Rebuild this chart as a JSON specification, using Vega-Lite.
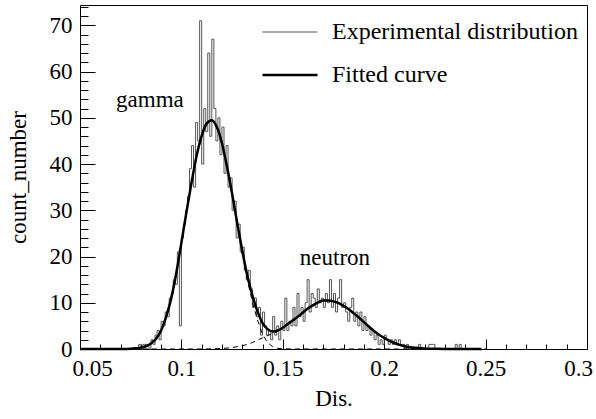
{
  "$schema": "https://vega.github.io/schema/vega-lite/v6.json",
  "width": 507,
  "height": 344,
  "autosize": {"type": "none"},
  "padding": {"left": 80, "top": 5, "right": 9, "bottom": 70},
  "background": "white",
  "config": {
    "view": {"stroke": "black", "strokeWidth": 1},
    "font": "Liberation Serif",
    "axis": {
      "labelFont": "Liberation Serif",
      "titleFont": "Liberation Serif",
      "labelFontSize": 23,
      "titleFontSize": 23,
      "labelColor": "black",
      "titleColor": "black",
      "titleFontWeight": "normal",
      "domain": false,
      "grid": false,
      "tickColor": "black",
      "labelFlush": false,
      "labelOverlap": false
    }
  },
  "resolve": {"axis": {"x": "independent", "y": "independent"}},
  "datasets": {
    "hist": [
      {"x":0.075,"n":0},{"x":0.076,"n":0},{"x":0.077,"n":0},{"x":0.078,"n":0},{"x":0.079,"n":1},
      {"x":0.080,"n":0},{"x":0.081,"n":1},{"x":0.082,"n":1},{"x":0.083,"n":1},{"x":0.084,"n":0},
      {"x":0.085,"n":2},{"x":0.086,"n":1},{"x":0.087,"n":3},{"x":0.088,"n":4},{"x":0.089,"n":2},
      {"x":0.090,"n":6},{"x":0.091,"n":5},{"x":0.092,"n":8},{"x":0.093,"n":7},{"x":0.094,"n":11},
      {"x":0.095,"n":12},{"x":0.096,"n":15},{"x":0.097,"n":14},{"x":0.098,"n":21},{"x":0.099,"n":5},
      {"x":0.100,"n":24},{"x":0.101,"n":27},{"x":0.102,"n":30},{"x":0.103,"n":33},{"x":0.104,"n":39},
      {"x":0.105,"n":44},{"x":0.106,"n":35},{"x":0.107,"n":49},{"x":0.108,"n":45},{"x":0.109,"n":71},
      {"x":0.110,"n":40},{"x":0.111,"n":52},{"x":0.112,"n":47},{"x":0.113,"n":64},{"x":0.114,"n":46},
      {"x":0.115,"n":67},{"x":0.116,"n":52},{"x":0.117,"n":45},{"x":0.118,"n":50},{"x":0.119,"n":42},
      {"x":0.120,"n":48},{"x":0.121,"n":38},{"x":0.122,"n":44},{"x":0.123,"n":35},{"x":0.124,"n":37},
      {"x":0.125,"n":30},{"x":0.126,"n":32},{"x":0.127,"n":24},{"x":0.128,"n":27},{"x":0.129,"n":21},
      {"x":0.130,"n":22},{"x":0.131,"n":17},{"x":0.132,"n":15},{"x":0.133,"n":17},{"x":0.134,"n":13},
      {"x":0.135,"n":9},{"x":0.136,"n":11},{"x":0.137,"n":7},{"x":0.138,"n":9},{"x":0.139,"n":3},
      {"x":0.140,"n":8},{"x":0.141,"n":5},{"x":0.142,"n":3},{"x":0.143,"n":4},{"x":0.144,"n":2},
      {"x":0.145,"n":7},{"x":0.146,"n":3},{"x":0.147,"n":5},{"x":0.148,"n":2},{"x":0.149,"n":6},
      {"x":0.150,"n":4},{"x":0.151,"n":11},{"x":0.152,"n":4},{"x":0.153,"n":6},{"x":0.154,"n":5},
      {"x":0.155,"n":9},{"x":0.156,"n":5},{"x":0.157,"n":12},{"x":0.158,"n":7},{"x":0.159,"n":9},
      {"x":0.160,"n":6},{"x":0.161,"n":10},{"x":0.162,"n":15},{"x":0.163,"n":8},{"x":0.164,"n":12},
      {"x":0.165,"n":11},{"x":0.166,"n":9},{"x":0.167,"n":13},{"x":0.168,"n":10},{"x":0.169,"n":11},
      {"x":0.170,"n":9},{"x":0.171,"n":12},{"x":0.172,"n":10},{"x":0.173,"n":15},{"x":0.174,"n":9},
      {"x":0.175,"n":12},{"x":0.176,"n":8},{"x":0.177,"n":11},{"x":0.178,"n":15},{"x":0.179,"n":9},
      {"x":0.180,"n":10},{"x":0.181,"n":8},{"x":0.182,"n":6},{"x":0.183,"n":9},{"x":0.184,"n":11},
      {"x":0.185,"n":6},{"x":0.186,"n":8},{"x":0.187,"n":5},{"x":0.188,"n":8},{"x":0.189,"n":4},
      {"x":0.190,"n":7},{"x":0.191,"n":4},{"x":0.192,"n":5},{"x":0.193,"n":3},{"x":0.194,"n":4},
      {"x":0.195,"n":2},{"x":0.196,"n":3},{"x":0.197,"n":1},{"x":0.198,"n":2},{"x":0.199,"n":1},
      {"x":0.200,"n":3},{"x":0.201,"n":2},{"x":0.202,"n":1},{"x":0.203,"n":2},{"x":0.204,"n":1},
      {"x":0.205,"n":2},{"x":0.206,"n":1},{"x":0.207,"n":2},{"x":0.208,"n":1},{"x":0.209,"n":1},
      {"x":0.210,"n":0},{"x":0.211,"n":1},{"x":0.212,"n":0},{"x":0.213,"n":0},{"x":0.214,"n":0},
      {"x":0.215,"n":0},{"x":0.216,"n":0},{"x":0.217,"n":1},{"x":0.218,"n":0},{"x":0.219,"n":0},
      {"x":0.220,"n":0},{"x":0.221,"n":0},{"x":0.222,"n":1},{"x":0.223,"n":1},{"x":0.224,"n":1},
      {"x":0.225,"n":0},{"x":0.226,"n":0},{"x":0.227,"n":0},{"x":0.228,"n":0},{"x":0.229,"n":0},
      {"x":0.230,"n":0},{"x":0.231,"n":0},{"x":0.232,"n":0},{"x":0.233,"n":0},{"x":0.234,"n":0},
      {"x":0.235,"n":1},{"x":0.236,"n":0},{"x":0.237,"n":1},{"x":0.238,"n":0},{"x":0.239,"n":0},
      {"x":0.240,"n":0}
    ],
    "fit": [
      {"x":0.05,"y":0},{"x":0.07,"y":0},{"x":0.0725,"y":0.02},{"x":0.075,"y":0.05},{"x":0.0775,"y":0.15},
      {"x":0.08,"y":0.3},{"x":0.0825,"y":0.6},{"x":0.085,"y":1.2},{"x":0.0875,"y":2.2},{"x":0.09,"y":4.0},
      {"x":0.0925,"y":7.0},{"x":0.095,"y":11.0},{"x":0.0975,"y":16.5},{"x":0.1,"y":23.0},{"x":0.1025,"y":29.6},
      {"x":0.105,"y":36.0},{"x":0.1075,"y":41.8},{"x":0.11,"y":46.1},{"x":0.1125,"y":48.8},{"x":0.115,"y":49.5},
      {"x":0.1175,"y":48.0},{"x":0.12,"y":44.5},{"x":0.1225,"y":39.4},{"x":0.125,"y":33.6},{"x":0.1275,"y":27.3},
      {"x":0.13,"y":21.3},{"x":0.1325,"y":15.9},{"x":0.135,"y":11.6},{"x":0.1375,"y":8.2},{"x":0.14,"y":5.6},
      {"x":0.1425,"y":4.3},{"x":0.145,"y":3.8},{"x":0.1475,"y":4.0},{"x":0.15,"y":4.6},{"x":0.1525,"y":5.4},
      {"x":0.155,"y":6.2},{"x":0.1575,"y":7.0},{"x":0.16,"y":7.9},{"x":0.1625,"y":8.8},{"x":0.165,"y":9.5},
      {"x":0.1675,"y":10.1},{"x":0.17,"y":10.5},{"x":0.1725,"y":10.5},{"x":0.175,"y":10.3},{"x":0.1775,"y":9.9},
      {"x":0.18,"y":9.3},{"x":0.1825,"y":8.6},{"x":0.185,"y":7.7},{"x":0.1875,"y":6.8},{"x":0.19,"y":5.8},
      {"x":0.1925,"y":4.8},{"x":0.195,"y":3.9},{"x":0.1975,"y":3.1},{"x":0.2,"y":2.4},{"x":0.2025,"y":1.8},
      {"x":0.205,"y":1.3},{"x":0.2075,"y":0.9},{"x":0.21,"y":0.6},{"x":0.2125,"y":0.4},{"x":0.215,"y":0.25},
      {"x":0.22,"y":0.1},{"x":0.225,"y":0.03},{"x":0.23,"y":0},{"x":0.248,"y":0}
    ],
    "comps": [
      {"comp":"gamma","x":0.05,"y":0},{"comp":"gamma","x":0.07,"y":0},{"comp":"gamma","x":0.0725,"y":0.02},
      {"comp":"gamma","x":0.075,"y":0.05},{"comp":"gamma","x":0.0775,"y":0.15},{"comp":"gamma","x":0.08,"y":0.3},
      {"comp":"gamma","x":0.0825,"y":0.6},{"comp":"gamma","x":0.085,"y":1.2},{"comp":"gamma","x":0.0875,"y":2.2},
      {"comp":"gamma","x":0.09,"y":4.0},{"comp":"gamma","x":0.0925,"y":7.0},{"comp":"gamma","x":0.095,"y":11.0},
      {"comp":"gamma","x":0.0975,"y":16.5},{"comp":"gamma","x":0.1,"y":23.0},{"comp":"gamma","x":0.1025,"y":29.6},
      {"comp":"gamma","x":0.105,"y":36.0},{"comp":"gamma","x":0.1075,"y":41.8},{"comp":"gamma","x":0.11,"y":46.1},
      {"comp":"gamma","x":0.1125,"y":48.8},{"comp":"gamma","x":0.115,"y":49.5},{"comp":"gamma","x":0.1175,"y":48.0},
      {"comp":"gamma","x":0.12,"y":44.4},{"comp":"gamma","x":0.1225,"y":39.2},{"comp":"gamma","x":0.125,"y":33.3},
      {"comp":"gamma","x":0.1275,"y":26.8},{"comp":"gamma","x":0.13,"y":20.6},{"comp":"gamma","x":0.1325,"y":14.9},
      {"comp":"gamma","x":0.135,"y":10.2},{"comp":"gamma","x":0.1375,"y":6.3},{"comp":"gamma","x":0.14,"y":3.2},
      {"comp":"gamma","x":0.1425,"y":1.4},{"comp":"gamma","x":0.145,"y":0.5},{"comp":"gamma","x":0.1475,"y":0.15},
      {"comp":"gamma","x":0.15,"y":0.04},{"comp":"gamma","x":0.155,"y":0},{"comp":"gamma","x":0.25,"y":0},
      {"comp":"neutron","x":0.05,"y":0},{"comp":"neutron","x":0.11,"y":0},{"comp":"neutron","x":0.115,"y":0.03},
      {"comp":"neutron","x":0.12,"y":0.12},{"comp":"neutron","x":0.125,"y":0.3},{"comp":"neutron","x":0.13,"y":0.7},
      {"comp":"neutron","x":0.1325,"y":1.0},{"comp":"neutron","x":0.135,"y":1.4},{"comp":"neutron","x":0.1375,"y":1.9},
      {"comp":"neutron","x":0.14,"y":2.4},{"comp":"neutron","x":0.1425,"y":2.9},{"comp":"neutron","x":0.145,"y":3.3},
      {"comp":"neutron","x":0.1475,"y":3.85},{"comp":"neutron","x":0.15,"y":4.55},{"comp":"neutron","x":0.1525,"y":5.4},
      {"comp":"neutron","x":0.155,"y":6.2},{"comp":"neutron","x":0.1575,"y":7.0},{"comp":"neutron","x":0.16,"y":7.9},
      {"comp":"neutron","x":0.1625,"y":8.8},{"comp":"neutron","x":0.165,"y":9.5},{"comp":"neutron","x":0.1675,"y":10.1},
      {"comp":"neutron","x":0.17,"y":10.5},{"comp":"neutron","x":0.1725,"y":10.5},{"comp":"neutron","x":0.175,"y":10.3},
      {"comp":"neutron","x":0.1775,"y":9.9},{"comp":"neutron","x":0.18,"y":9.3},{"comp":"neutron","x":0.1825,"y":8.6},
      {"comp":"neutron","x":0.185,"y":7.7},{"comp":"neutron","x":0.1875,"y":6.8},{"comp":"neutron","x":0.19,"y":5.8},
      {"comp":"neutron","x":0.1925,"y":4.8},{"comp":"neutron","x":0.195,"y":3.9},{"comp":"neutron","x":0.1975,"y":3.1},
      {"comp":"neutron","x":0.2,"y":2.4},{"comp":"neutron","x":0.2025,"y":1.8},{"comp":"neutron","x":0.205,"y":1.3},
      {"comp":"neutron","x":0.2075,"y":0.9},{"comp":"neutron","x":0.21,"y":0.6},{"comp":"neutron","x":0.2125,"y":0.4},
      {"comp":"neutron","x":0.215,"y":0.25},{"comp":"neutron","x":0.22,"y":0.1},{"comp":"neutron","x":0.225,"y":0.03},
      {"comp":"neutron","x":0.23,"y":0},{"comp":"neutron","x":0.25,"y":0}
    ],
    "labels": [
      {"x":0.0845,"y":53.8,"label":"gamma"},
      {"x":0.1757,"y":19.7,"label":"neutron"}
    ]
  },
  "layer": [
    {
      "data": {"name": "hist"},
      "mark": {"type": "line", "interpolate": "step-after", "strokeWidth": 1},
      "encoding": {
        "x": {
          "field": "x", "type": "quantitative",
          "scale": {"domain": [0.05, 0.3], "nice": false, "zero": false},
          "axis": {
            "title": "Dis.",
            "orient": "bottom",
            "values": [0.05, 0.1, 0.15, 0.2, 0.25, 0.3],
            "labelExpr": "format(datum.value, '~g')",
            "labelOverlap": false,
            "tickSize": -10,
            "labelPadding": 18,
            "labelOffset": {"condition": [{"test": "datum.value < 0.055", "value": 12}, {"test": "datum.value > 0.29", "value": -9}], "value": 0},
            "titlePadding": 7
          }
        },
        "y": {
          "field": "n", "type": "quantitative",
          "scale": {"domain": [0, 74.4], "nice": false},
          "axis": {
            "title": "count_number",
            "orient": "left",
            "values": [0, 10, 20, 30, 40, 50, 60, 70],
            "labelOverlap": false,
            "tickSize": -15,
            "labelPadding": 23,
            "titlePadding": 19
          }
        },
        "color": {
          "datum": "Experimental distribution", "type": "nominal",
          "scale": {"domain": ["Experimental distribution", "Fitted curve"], "range": ["#555555", "#000000"]},
          "legend": {
            "orient": "none", "legendX": 198, "legendY": 15, "title": null,
            "symbolType": "stroke", "symbolSize": 3025, "labelFont": "Liberation Serif",
            "labelFontSize": 24, "labelColor": "black", "labelOffset": 30, "labelLimit": 0,
            "rowPadding": 19, "padding": 0,
            "encode": {
              "symbols": {"update": {"strokeWidth": {"signal": "datum.value === 'Fitted curve' ? 2.5 : 1"}}}
            }
          }
        }
      }
    },
    {
      "data": {"name": "comps"},
      "mark": {"type": "line", "color": "black", "strokeWidth": 1, "strokeDash": [5, 4]},
      "encoding": {
        "x": {
          "field": "x", "type": "quantitative",
          "axis": {
            "orient": "bottom", "title": null, "labels": false,
            "values": [0.06,0.07,0.08,0.09,0.11,0.12,0.13,0.14,0.16,0.17,0.18,0.19,0.21,0.22,0.23,0.24,0.26,0.27,0.28,0.29],
            "tickSize": -5
          }
        },
        "y": {
          "field": "y", "type": "quantitative",
          "axis": {
            "orient": "left", "title": null, "labels": false,
            "values": [2,4,6,8,12,14,16,18,22,24,26,28,32,34,36,38,42,44,46,48,52,54,56,58,62,64,66,68,72,74],
            "tickSize": -8
          }
        },
        "detail": {"field": "comp", "type": "nominal"}
      }
    },
    {
      "data": {"name": "fit"},
      "mark": {"type": "line", "interpolate": "monotone", "strokeWidth": 2.5},
      "encoding": {
        "x": {"field": "x", "type": "quantitative", "axis": null},
        "y": {"field": "y", "type": "quantitative", "axis": null},
        "color": {"datum": "Fitted curve", "type": "nominal"}
      }
    },
    {
      "data": {"name": "labels"},
      "mark": {"type": "text", "font": "Liberation Serif", "fontSize": 23, "color": "black", "align": "center", "baseline": "middle"},
      "encoding": {
        "x": {"field": "x", "type": "quantitative", "axis": null},
        "y": {"field": "y", "type": "quantitative", "axis": null},
        "text": {"field": "label"}
      }
    }
  ]
}
